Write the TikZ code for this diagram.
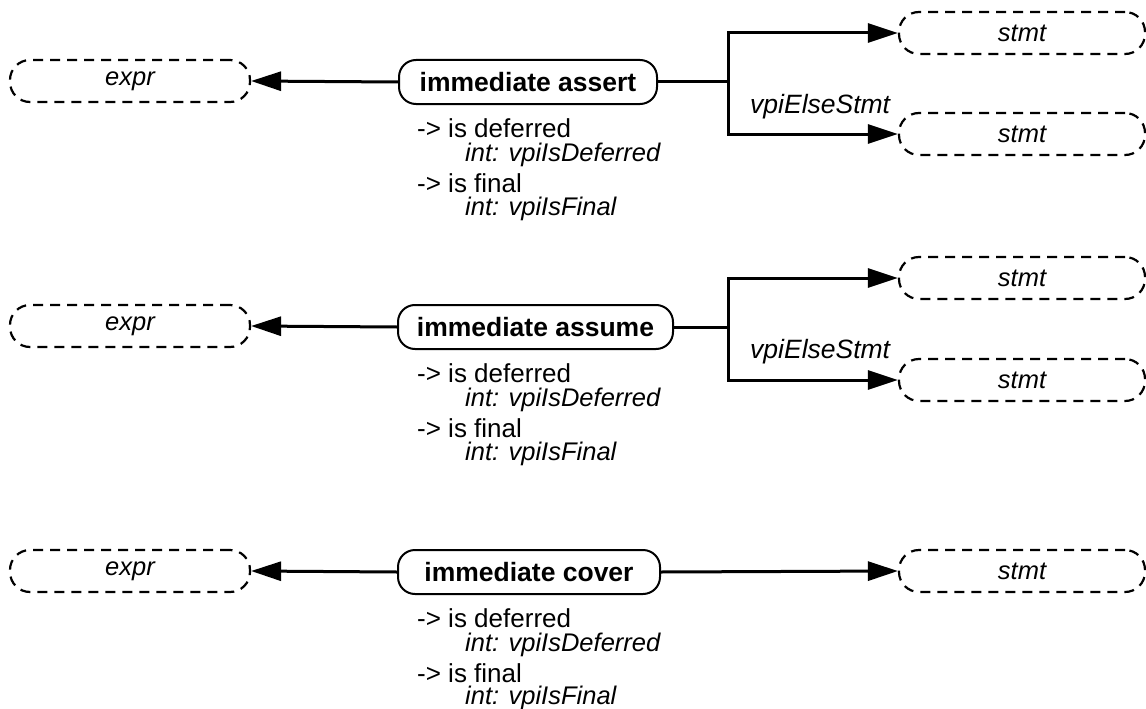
\documentclass[tikz,border=0pt]{standalone}
\usepackage{fontspec}
\setmainfont{Liberation Sans}
\usetikzlibrary{arrows.meta}
\begin{document}
\begin{tikzpicture}[x=1pt,y=-1pt,
  obj/.style={draw,line width=2pt,rounded corners=17pt,minimum height=44pt,anchor=west,font=\fontsize{26.5}{30}\selectfont\bfseries,inner sep=0pt},
  ref/.style={draw,dash pattern=on 10pt off 7pt,line width=2.2pt,rounded corners=20pt,minimum height=42pt,minimum width=240pt,font=\fontsize{25.5}{28}\selectfont\itshape,inner sep=0pt},
  sref/.style={ref,minimum width=246pt},
  conn/.style={line width=3pt},
  arr/.style={conn,-{Triangle[length=30pt,width=19pt]}},
  attr/.style={anchor=base west,font=\fontsize{26}{28}\selectfont,inner sep=0pt},
  attrv/.style={anchor=base west,font=\fontsize{25.5}{26}\selectfont\itshape,inner sep=0pt},
  lbl/.style={anchor=base west,font=\fontsize{26.5}{28}\selectfont\itshape,inner sep=0pt},
]
\useasboundingbox (0,0) rectangle (1146,709);

% ---- row 1
\node[obj,minimum width=258pt] (a1) at (398,82) {immediate assert};
\node[ref] (e1) at (130,81) {expr};
\node[sref] (s1) at (1022,33) {stmt};
\node[sref] (t1) at (1022,134) {stmt};
\coordinate (b1) at (728,82);
\draw[arr] (a1.west) -- (e1.east);
\draw[conn] (a1.east) -- (b1);
\draw[arr] (b1) |- (s1.west);
\draw[arr] (b1) |- (t1.west);
\node[lbl] (l1) at (750,113) {vpiElseStmt};
\node[attr] (d1) at (417,137) {-> is deferred};
\node[attrv] (di1) at (465,161) {int: vpiIsDeferred};
\node[attr] (f1) at (417,192) {-> is final};
\node[attrv] (fi1) at (465,215) {int: vpiIsFinal};

% ---- row 2
\node[obj,minimum width=275pt] (a2) at (397,327) {immediate assume};
\node[ref] (e2) at (130,326) {expr};
\node[sref] (s2) at (1022,278) {stmt};
\node[sref] (t2) at (1022,380) {stmt};
\coordinate (b2) at (728,327);
\draw[arr] (a2.west) -- (e2.east);
\draw[conn] (a2.east) -- (b2);
\draw[arr] (b2) |- (s2.west);
\draw[arr] (b2) |- (t2.west);
\node[lbl] (l2) at (750,358) {vpiElseStmt};
\node[attr] (d2) at (417,382) {-> is deferred};
\node[attrv] (di2) at (465,406) {int: vpiIsDeferred};
\node[attr] (f2) at (417,437) {-> is final};
\node[attrv] (fi2) at (465,460) {int: vpiIsFinal};

% ---- row 3
\node[obj,minimum width=262pt] (a3) at (397,572) {immediate cover};
\node[ref] (e3) at (130,571) {expr};
\node[sref] (s3) at (1022,571) {stmt};
\draw[arr] (a3.west) -- (e3.east);
\draw[arr] (a3.east) -- (s3.west);
\node[attr] (d3) at (417,627) {-> is deferred};
\node[attrv] (di3) at (465,651) {int: vpiIsDeferred};
\node[attr] (f3) at (417,682) {-> is final};
\node[attrv] (fi3) at (465,704) {int: vpiIsFinal};
\end{tikzpicture}
\end{document}
